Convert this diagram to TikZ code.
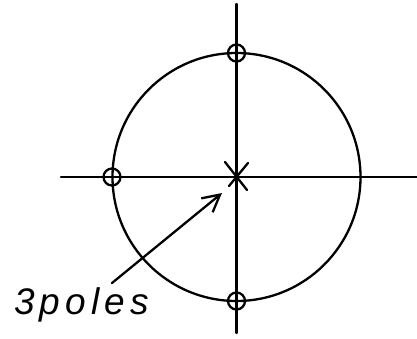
\documentclass[tikz,border=0pt]{standalone}
\usepackage{fontspec}
\setmainfont{Liberation Sans}
\usetikzlibrary{arrows.meta}
\tikzset{
  ink/.style={line width=2.3pt, line cap=round, black},
  pole/.style={circle, draw, line width=2.3pt, minimum size=17pt, inner sep=0pt},
  label3/.style={font=\fontsize{37}{37}\selectfont\itshape\addfontfeature{LetterSpace=14}, inner sep=0pt}
}
\begin{document}
\begin{tikzpicture}[x=1pt,y=-1pt]
\useasboundingbox (0,0) rectangle (417,338);
\coordinate (O) at (236.5,177);
\coordinate (hl) at (61,177);
\coordinate (hr) at (417,177);
\coordinate (vt) at (236.5,4);
\coordinate (vb) at (236.5,333);
\draw[ink] (hl) -- (hr);
\draw[ink] (vt) -- (vb);
\draw[ink] (O) circle[radius=124pt];
\node[pole] (p1) at (236.5,53) {};
\node[pole] (p2) at (112,177) {};
\node[pole] (p3) at (236.5,301) {};
\coordinate (x1a) at (225,162);
\coordinate (x1b) at (247,190);
\coordinate (x2a) at (248,163);
\coordinate (x2b) at (229,186);
\draw[ink] (x1a) -- (x1b);
\draw[ink] (x2a) -- (x2b);
\node[label3, anchor=base west] (lbl) at (14,314) {3poles};
\coordinate (as) at (112,283);
\coordinate (at) at (222,193);
\draw[ink, -{Straight Barb[length=17pt,width=18pt,line width=2.3pt]}] (as) -- (at);
\end{tikzpicture}
\end{document}
